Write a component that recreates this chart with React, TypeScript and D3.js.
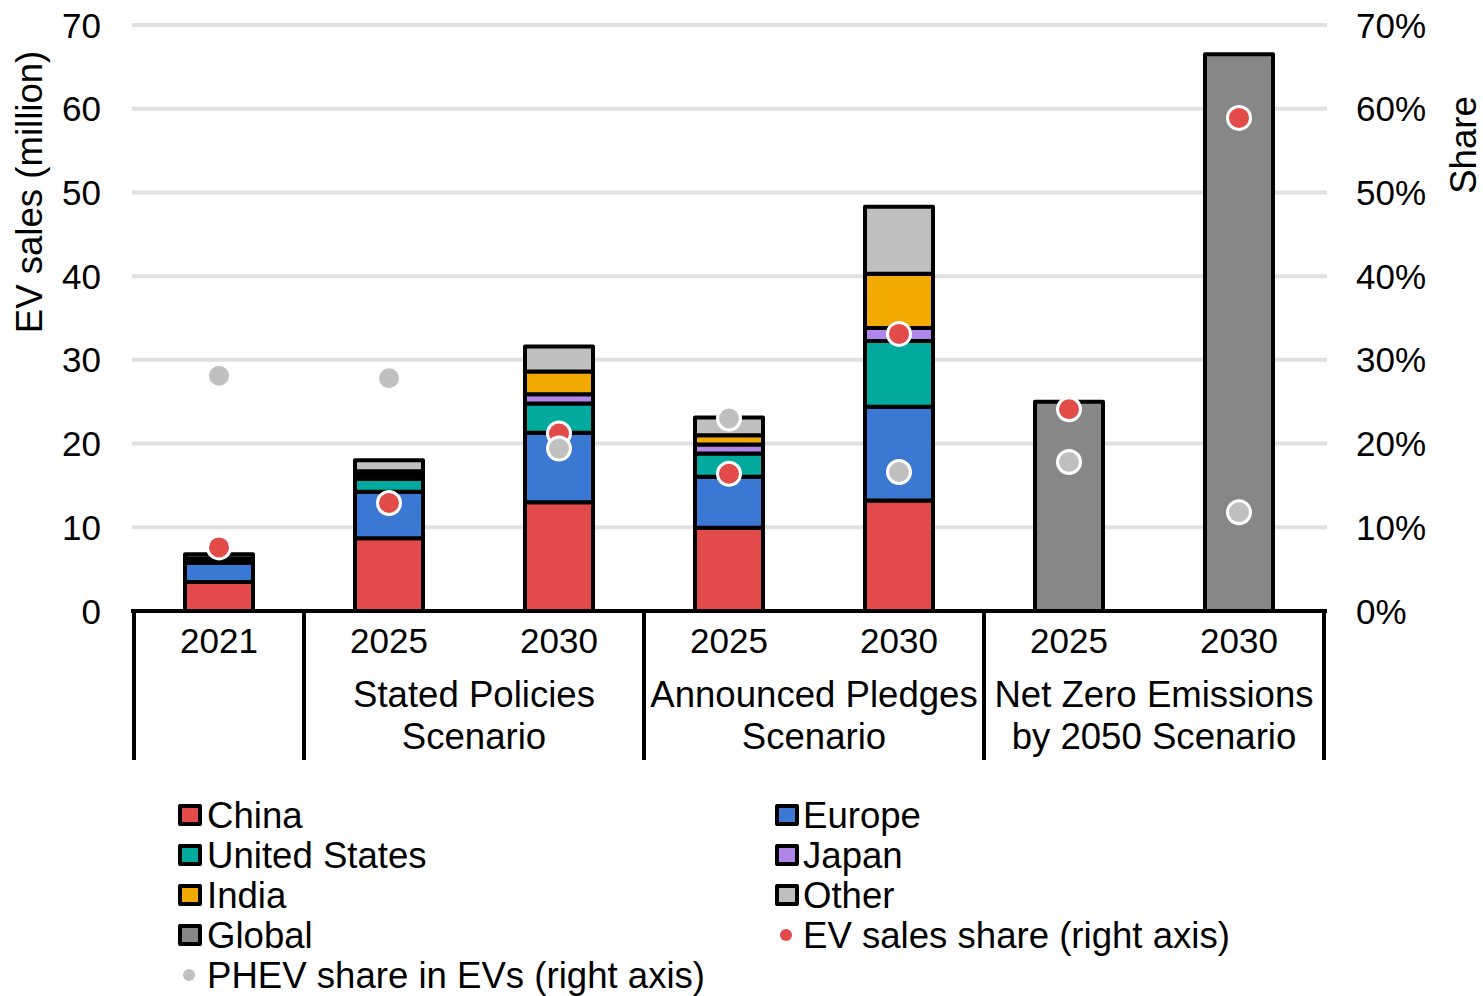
import React from "react";
import * as d3 from "d3";

// Categories along the x axis (one bar each)
const categories = ["2021", "2025", "2030", "2025", "2030", "2025", "2030"];

// Scenario groups: label lines and the index range of bars they cover
const groupLabels = [[""], ["Stated Policies", "Scenario"], ["Announced Pledges", "Scenario"], ["Net Zero Emissions", "by 2050 Scenario"]];
const groupStarts = [0, 1, 3, 5];
const groupEnds = [1, 3, 5, 7];

// EV sales by region (million)
const china = [3.45, 8.7, 13.0, 9.95, 13.2, 0, 0];
const europe = [2.32, 5.55, 8.3, 6.1, 11.2, 0, 0];
const unitedStates = [0.45, 1.55, 3.5, 2.75, 7.85, 0, 0];
const japan = [0.03, 0.45, 1.1, 1.1, 1.55, 0, 0];
const india = [0.02, 0.45, 2.7, 1.1, 6.5, 0, 0];
const other = [0.5, 1.3, 3.0, 2.1, 8.0, 0, 0];
const global = [0, 0, 0, 0, 0, 25.0, 66.5];

// Shares (%) on the right axis
const evShare = [7.6, 12.9, 21.2, 16.4, 33.1, 24.1, 58.9];
const phevShare = [28.1, 27.8, 19.4, 23.0, 16.6, 17.8, 11.8];

const leftTicks = [0, 10, 20, 30, 40, 50, 60, 70];
const rightTicks = [0, 10, 20, 30, 40, 50, 60, 70];

const seriesKeys = ["China", "Europe", "United States", "Japan", "India", "Other", "Global"];
const seriesValues = [china, europe, unitedStates, japan, india, other, global];
const seriesColors = ["#e24b4a", "#3b78d4", "#00aa9c", "#b086ea", "#f2a900", "#bfbfbf", "#878787"];

const RED = "#e24b4a";
const GREY_DOT = "#c0c0c0";
const FONT = "'Liberation Sans', Arial, sans-serif";
const WORD_SIZE = 36.6;
const NUM_SIZE = 35;

export default function App() {
  const W = 1483;
  const H = 996;
  const x0 = 134;
  const x1 = 1324;
  const x = d3
    .scaleBand<number>()
    .domain(d3.range(categories.length))
    .range([x0, x1])
    .paddingInner(0.6)
    .paddingOuter(0.3);
  const step = x.step();
  const y = d3.scaleLinear().domain([0, 70]).range([611, 25]);
  const yR = d3.scaleLinear().domain([0, 70]).range([611, 25]);

  const rows = categories.map((_, i) => {
    const r: Record<string, number> = { idx: i };
    seriesKeys.forEach((k, s) => (r[k] = seriesValues[s][i]));
    return r;
  });
  const stacked = d3.stack<Record<string, number>>().keys(seriesKeys)(rows);

  const bx = (i: number) => x(i) as number;
  const bw = x.bandwidth();
  const cx = (i: number) => bx(i) + bw / 2;
  const edge = (k: number) => x0 + step * k;

  const legendLeft = [
    { name: "China", color: seriesColors[0] },
    { name: "United States", color: seriesColors[2] },
    { name: "India", color: seriesColors[4] },
    { name: "Global", color: seriesColors[6] },
  ];
  const legendRight = [
    { name: "Europe", color: seriesColors[1] },
    { name: "Japan", color: seriesColors[3] },
    { name: "Other", color: seriesColors[5] },
  ];

  return (
    <svg
      width={W}
      height={H}
      style={{ position: "absolute", left: 0, top: 0, background: "#fff" }}
      fontFamily={FONT}
    >
      {/* gridlines */}
      {leftTicks.slice(1).map((t) => (
        <line key={"g" + t} x1={132} x2={1327} y1={y(t)} y2={y(t)} stroke="#e0e0e0" strokeWidth={4} />
      ))}

      {/* stacked bars */}
      {stacked.map((layer, s) => (
        <g key={layer.key}>
          {layer.map((d, i) =>
            d[1] - d[0] > 0 ? (
              <rect
                key={i}
                x={bx(i)}
                width={bw}
                y={y(d[1])}
                height={y(d[0]) - y(d[1])}
                fill={seriesColors[s]}
                stroke="#000"
                strokeWidth={4}
                strokeLinejoin="round"
              />
            ) : null
          )}
        </g>
      ))}

      {/* EV sales share dots */}
      {evShare.map((v, i) => (
        <circle key={"ev" + i} cx={cx(i)} cy={yR(v)} r={11.5} fill={RED} stroke="#fff" strokeWidth={3} />
      ))}
      {/* PHEV share dots */}
      {phevShare.map((v, i) => (
        <circle key={"ph" + i} cx={cx(i)} cy={yR(v)} r={11.5} fill={GREY_DOT} stroke="#fff" strokeWidth={3} />
      ))}

      {/* x axis baseline and group dividers */}
      <line x1={131} x2={1327} y1={611} y2={611} stroke="#000" strokeWidth={4} />
      {[0, 1, 3, 5, 7].map((k) => (
        <line key={"d" + k} x1={edge(k)} x2={edge(k)} y1={611} y2={760} stroke="#000" strokeWidth={4} />
      ))}

      {/* category labels */}
      {categories.map((c, i) => (
        <text key={"c" + i} x={cx(i)} y={653} textAnchor="middle" fontSize={NUM_SIZE} fill="#000">
          {c}
        </text>
      ))}
      {groupLabels.map((lines, g) => {
        const mid = (edge(groupStarts[g]) + edge(groupEnds[g])) / 2;
        return lines.map((ln, j) => (
          <text key={"gl" + g + j} x={mid} y={707 + j * 42} textAnchor="middle" fontSize={WORD_SIZE} fill="#000">
            {ln}
          </text>
        ));
      })}

      {/* left axis ticks */}
      {leftTicks.map((t) => (
        <text key={"l" + t} x={101} y={y(t) + 12.5} textAnchor="end" fontSize={NUM_SIZE} fill="#000">
          {t}
        </text>
      ))}
      {/* right axis ticks */}
      {rightTicks.map((t) => (
        <text key={"r" + t} x={1356} y={yR(t) + 12.5} textAnchor="start" fontSize={NUM_SIZE} fill="#000">
          {t + "%"}
        </text>
      ))}

      {/* axis titles */}
      <text transform="translate(42,192) rotate(-90)" textAnchor="middle" fontSize={WORD_SIZE} fill="#000">
        EV sales (million)
      </text>
      <text transform="translate(1476,145) rotate(-90)" textAnchor="middle" fontSize={WORD_SIZE} fill="#000">
        Share
      </text>

      {/* legend */}
      {legendLeft.map((l, j) => (
        <g key={"ll" + j} transform={`translate(0,${815 + j * 40})`}>
          <rect x={180} y={-9} width={20} height={18} fill={l.color} stroke="#000" strokeWidth={4} strokeLinejoin="round" />
          <text x={207} y={12.5} fontSize={WORD_SIZE} fill="#000">
            {l.name}
          </text>
        </g>
      ))}
      <g transform={`translate(0,${815 + 4 * 40})`}>
        <circle cx={189} cy={0} r={6} fill={GREY_DOT} />
        <text x={207} y={12.5} fontSize={WORD_SIZE} fill="#000">
          PHEV share in EVs (right axis)
        </text>
      </g>
      {legendRight.map((l, j) => (
        <g key={"lr" + j} transform={`translate(0,${815 + j * 40})`}>
          <rect x={777} y={-9} width={20} height={18} fill={l.color} stroke="#000" strokeWidth={4} strokeLinejoin="round" />
          <text x={803} y={12.5} fontSize={WORD_SIZE} fill="#000">
            {l.name}
          </text>
        </g>
      ))}
      <g transform={`translate(0,${815 + 3 * 40})`}>
        <circle cx={786} cy={0} r={6} fill={RED} />
        <text x={803} y={12.5} fontSize={WORD_SIZE} fill="#000">
          EV sales share (right axis)
        </text>
      </g>
    </svg>
  );
}
